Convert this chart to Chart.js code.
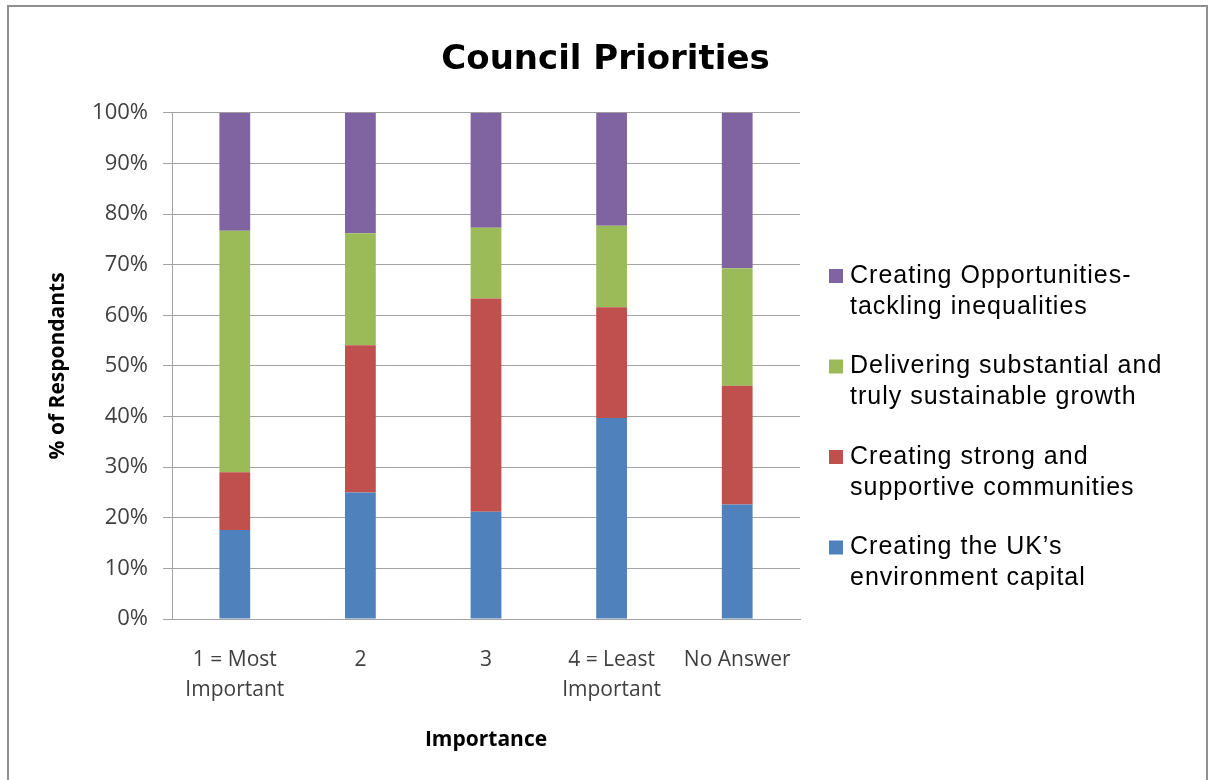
<!DOCTYPE html>
<html>
<head>
<meta charset="utf-8">
<script src="https://cdn.jsdelivr.net/npm/chart.js@4.4.1/dist/chart.umd.min.js"></script>
<style>
  html, body { margin: 0; padding: 0; background: #fff; overflow: hidden; }
  #frame { position: absolute; left: 7px; top: 5px; width: 1201px; height: 820px;
           border: 2px solid #8f8f8f; box-sizing: border-box; }
  #wrap { position: absolute; left: 0; top: 0; width: 1211px; height: 780px; }
</style>
</head>
<body>
<div id="frame"></div>
<div id="wrap"><canvas id="chart"></canvas></div>
<script>
// Importance categories (multi-line tick labels)
const categories = [['1 = Most', 'Important'], '2', '3', ['4 = Least', 'Important'], 'No Answer'];

// Share of respondents per priority, % of each category
const environmentCapital   = [17.6, 25.0, 21.2, 39.7, 22.6];
const strongCommunities    = [11.4, 29.1, 42.1, 21.9, 23.5];
const sustainableGrowth    = [47.7, 22.1, 14.0, 16.1, 23.2];
const tacklingInequalities = [23.3, 23.8, 22.7, 22.3, 30.7];

// Series names, split into the lines shown in the key
const environmentLines  = ['Creating the UK\u2019s', 'environment capital'];
const communitiesLines  = ['Creating strong and', 'supportive communities'];
const growthLines       = ['Delivering substantial and', 'truly sustainable growth'];
const inequalitiesLines = ['Creating Opportunities-', 'tackling inequalities'];

// Value axis ticks
const yTicks = [0, 10, 20, 30, 40, 50, 60, 70, 80, 90, 100];

const GRID = '#a3a3a3';

// Key on the right: one square plus wrapped text per series, top series first
const sideKey = {
  id: 'sideKey',
  afterDraw(chart) {
    const ctx = chart.ctx;
    const sets = chart.data.datasets.slice().reverse();
    ctx.save();
    ctx.font = '25px "Liberation Sans", Arial, sans-serif';
    if ('letterSpacing' in ctx) ctx.letterSpacing = '1px';
    ctx.textBaseline = 'middle';
    ctx.textAlign = 'left';
    const x0 = 829, top = 276, gap = 90.5, lh = 31;
    sets.forEach((ds, i) => {
      const y = top + i * gap;
      ctx.fillStyle = ds.backgroundColor;
      ctx.fillRect(x0, y - 7, 14, 14);
      ctx.fillStyle = '#000';
      ds.keyLines.forEach((t, j) => ctx.fillText(t, x0 + 21, y + j * lh));
    });
    ctx.restore();
  }
};

const mk = (lines, data, color) => ({
  label: lines.join(' '),
  keyLines: lines,
  data: data,
  backgroundColor: color,
  borderWidth: 0,
  barPercentage: 0.245,
  categoryPercentage: 1.0
});

new Chart(document.getElementById('chart'), {
  type: 'bar',
  data: {
    labels: categories,
    datasets: [
      mk(environmentLines, environmentCapital, '#4F81BD'),
      mk(communitiesLines, strongCommunities, '#C0504D'),
      mk(growthLines, sustainableGrowth, '#9BBB59'),
      mk(inequalitiesLines, tacklingInequalities, '#8064A2')
    ]
  },
  plugins: [sideKey],
  options: {
    responsive: true,
    maintainAspectRatio: false,
    animation: false,
    layout: { padding: 0 },
    plugins: {
      legend: { display: false },
      tooltip: { enabled: false },
      title: {
        display: true,
        text: 'Council Priorities',
        color: '#000',
        font: { family: '"DejaVu Sans", sans-serif', size: 34, weight: 'bold', lineHeight: 1.2 },
        padding: { top: 40, bottom: 32 }
      }
    },
    scales: {
      x: {
        stacked: true,
        grid: { display: false, drawTicks: false },
        border: { display: true, color: GRID, width: 1 },
        ticks: {
          autoSkip: false, maxRotation: 0, minRotation: 0,
          color: '#404040',
          font: { family: '"Open Sans", sans-serif', size: 21, lineHeight: 1.43 },
          padding: 26
        },
        title: {
          display: true, text: 'Importance', color: '#000',
          font: { family: '"Open Sans", sans-serif', size: 21, weight: 'bold', lineHeight: 1.2 },
          padding: { top: 0, bottom: 27 }
        },
        afterFit(s) { s.height = 161; }
      },
      y: {
        stacked: true,
        min: 0, max: 100,
        afterBuildTicks(s) { s.ticks = yTicks.map(v => ({ value: v })); },
        ticks: {
          color: '#404040',
          font: { family: '"Open Sans", sans-serif', size: 22 },
          padding: 15,
          callback: v => v + '%'
        },
        grid: { color: GRID, lineWidth: 1, tickLength: 9 },
        border: { display: true, color: GRID, width: 1 },
        title: {
          display: true, text: '% of Respondants', color: '#000',
          font: { family: '"Open Sans", sans-serif', size: 21, weight: 'bold', lineHeight: 1.2 },
          padding: { top: 45, bottom: 0 }
        },
        afterFit(s) { s.width = 172; }
      },
      keySpace: {
        position: 'right',
        display: true,
        ticks: { display: false },
        grid: { display: false, drawTicks: false },
        border: { display: false },
        afterFit(s) { s.width = 411; }
      }
    }
  }
});
</script>
</body>
</html>
